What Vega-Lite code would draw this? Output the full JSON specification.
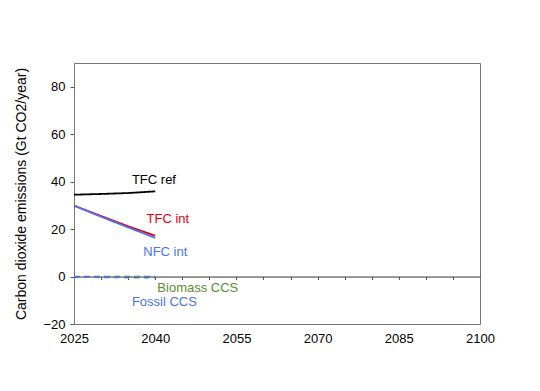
{
  "$schema": "https://vega.github.io/schema/vega-lite/v6.json",
  "autosize": "none",
  "width": 406,
  "height": 261,
  "padding": {"left": 74, "top": 63, "right": 60, "bottom": 67},
  "background": "white",
  "config": {
    "font": "Liberation Sans",
    "view": {"stroke": "#777777", "strokeWidth": 1},
    "axis": {"labelFont": "Liberation Sans", "titleFont": "Liberation Sans", "labelColor": "black", "titleColor": "black", "grid": false}
  },
  "datasets": {
    "lines": [
      {"series": "TFC ref", "year": 2025, "value": 34.5},
      {"series": "TFC ref", "year": 2030, "value": 34.8},
      {"series": "TFC ref", "year": 2035, "value": 35.2},
      {"series": "TFC ref", "year": 2040, "value": 35.9},
      {"series": "TFC int", "year": 2025, "value": 29.9},
      {"series": "TFC int", "year": 2030, "value": 25.5},
      {"series": "TFC int", "year": 2035, "value": 21.2},
      {"series": "TFC int", "year": 2040, "value": 17.2},
      {"series": "NFC int", "year": 2025, "value": 29.9},
      {"series": "NFC int", "year": 2030, "value": 25.2},
      {"series": "NFC int", "year": 2035, "value": 20.7},
      {"series": "NFC int", "year": 2040, "value": 16.3},
      {"series": "Biomass CCS", "year": 2025, "value": 0},
      {"series": "Biomass CCS", "year": 2030, "value": 0},
      {"series": "Biomass CCS", "year": 2035, "value": 0},
      {"series": "Biomass CCS", "year": 2040, "value": 0},
      {"series": "Fossil CCS", "year": 2025, "value": -0.2},
      {"series": "Fossil CCS", "year": 2030, "value": -0.3},
      {"series": "Fossil CCS", "year": 2035, "value": -0.4},
      {"series": "Fossil CCS", "year": 2040, "value": -0.5}
    ],
    "labels": [
      {"series": "TFC ref", "year": 2035.7, "value": 40.6},
      {"series": "TFC int", "year": 2038.4, "value": 24.2},
      {"series": "NFC int", "year": 2037.8, "value": 10.3},
      {"series": "Biomass CCS", "year": 2040.4, "value": -4.9},
      {"series": "Fossil CCS", "year": 2035.7, "value": -10.6}
    ]
  },
  "layer": [
    {
      "data": {"name": "lines"},
      "mark": {"type": "line", "strokeWidth": 1.8},
      "encoding": {
        "x": {
          "field": "year", "type": "quantitative",
          "scale": {"domain": [2025, 2100], "nice": false, "zero": false},
          "axis": {"orient": "bottom", "values": [2025, 2040, 2055, 2070, 2085, 2100], "format": "d", "title": null, "ticks": false, "labelPadding": 8, "labelFontSize": 13, "domainColor": "#777777", "labelFlush": false}
        },
        "y": {
          "field": "value", "type": "quantitative",
          "scale": {"domain": [-20, 90], "nice": false, "zero": false},
          "axis": {"values": [-20, -10, 0, 10, 20, 30, 40, 50, 60, 70, 80], "labelExpr": "datum.value % 20 == 0 ? datum.label : ''", "title": "Carbon dioxide emissions (Gt CO2/year)", "titleFontSize": 14, "titleFontWeight": "normal", "titlePadding": 14, "labelFontSize": 13, "labelPadding": 5, "tickSize": 4, "tickColor": "#555555", "domainColor": "#777777"}
        },
        "color": {"field": "series", "type": "nominal", "scale": {"domain": ["TFC ref", "TFC int", "NFC int", "Biomass CCS", "Fossil CCS"], "range": ["#000000", "#e8000b", "#4a72f5", "#5b8f2e", "#4a72f5"]}, "legend": null},
        "strokeDash": {"field": "series", "type": "nominal", "scale": {"domain": ["TFC ref", "TFC int", "NFC int", "Biomass CCS", "Fossil CCS"], "range": [[1, 0], [1, 0], [1, 0], [6, 4], [5, 5]]}, "legend": null},
        "order": {"field": "series"}
      }
    },
    {
      "data": {"name": "labels"},
      "mark": {"type": "text", "align": "left", "baseline": "middle", "fontSize": 13, "font": "Liberation Sans"},
      "encoding": {
        "x": {
          "field": "year", "type": "quantitative",
          "axis": {"orient": "bottom", "values": [2030, 2035, 2040, 2045, 2050, 2055, 2060, 2065, 2070, 2075, 2080, 2085, 2090, 2095], "labels": false, "title": null, "offset": -47.45, "tickSize": 3, "tickColor": "#555555", "domainColor": "#333333", "domainWidth": 1}
        },
        "y": {"field": "value", "type": "quantitative"},
        "text": {"field": "series"},
        "color": {"field": "series", "type": "nominal", "legend": null}
      }
    }
  ],
  "resolve": {"axis": {"x": "independent"}}
}
